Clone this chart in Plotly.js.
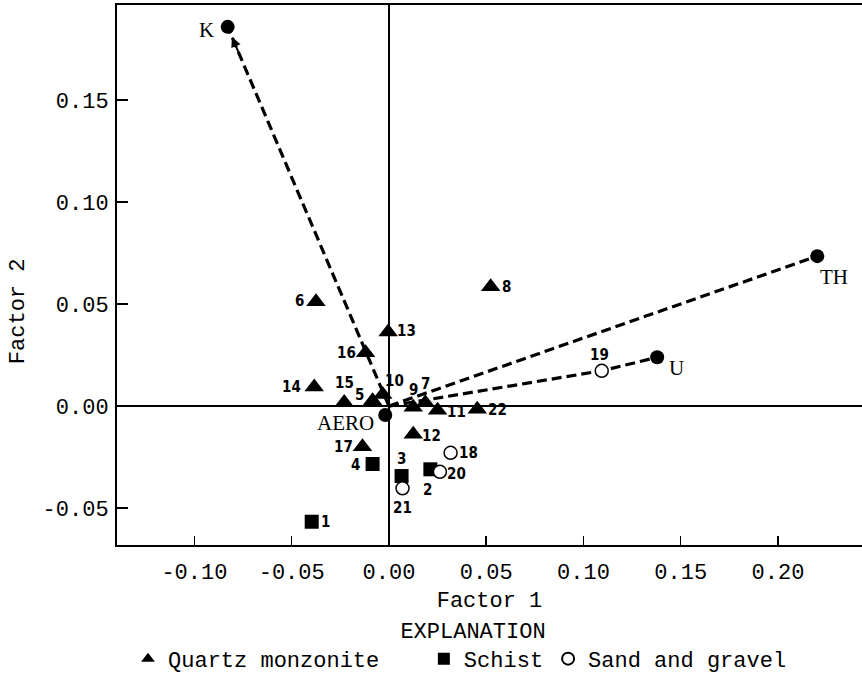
<!DOCTYPE html>
<html>
<head>
<meta charset="utf-8">
<script src="https://cdn.plot.ly/plotly-3.0.1.min.js"></script>
<style>html,body{margin:0;padding:0;background:#fff;}</style>
</head>
<body>
<div id="chart" style="width:862px;height:680px;"></div>
<script>
// ---- data ----
const categories = ['Quartz monzonite', 'Schist', 'Sand and gravel'];

const qmLabels = ['5','6','7','8','9','10','11','12','13','14','15','16','17','22'];
const qmX = [-0.0084,-0.0375, 0.0187, 0.0523, 0.0125,-0.0032, 0.0250, 0.0125,-0.0004,-0.0384,-0.0230,-0.0120,-0.0136, 0.0454];
const qmY = [ 0.0026, 0.0511, 0.0016, 0.0585,-0.0006, 0.0057,-0.0020,-0.0138, 0.0363, 0.0094, 0.0018, 0.0261,-0.0200,-0.0016];

const schLabels = ['1','2','3','4'];
const schX = [-0.0397, 0.0213, 0.0065,-0.0084];
const schY = [-0.0567,-0.0310,-0.0343,-0.0284];

const sgLabels = ['18','19','20','21'];
const sgX = [0.0317, 0.1094, 0.0262, 0.0070];
const sgY = [-0.0229, 0.0173,-0.0322,-0.0403];

const factorNames = ['K','TH','U','AERO'];
const factorX = [-0.0829, 0.2202, 0.1379,-0.0019];
const factorY = [ 0.1859, 0.0735, 0.0239,-0.0044];

const xTickVals = [-0.10,-0.05,0.00,0.05,0.10,0.15,0.20];
const xTickText = ['-0.10','-0.05','0.00','0.05','0.10','0.15','0.20'];
const yTickVals = [-0.05,0.00,0.05,0.10,0.15];
const yTickText = ['-0.05','0.00','0.05','0.10','0.15'];

// ---- styles: label offsets in pixels [right, down] from the mark ----
const labelOffset = {
  '1':[14,0], '2':[-3,21], '3':[0,-17], '4':[-17,1], '5':[-13,-6], '6':[-16,-1],
  '7':[0,-19], '8':[16,0], '9':[0,-17], '10':[12,-13], '11':[19,2], '12':[18,2],
  '13':[18,-1], '14':[-23,0], '15':[0,-19], '16':[-19,0], '17':[-19,0], '18':[18,0],
  '19':[-2,-16], '20':[17,2], '21':[0,20], '22':[20,1]
};
const factorOffset = {'K':[-21,3], 'TH':[17,21], 'U':[19,11], 'AERO':[-40,8]};
const legendPad = ['\u00a0\u00a0\u00a0', '', '\u00a0\u00a0'];

const MONO = 'Liberation Mono, Courier New, monospace';
const NUMF = {family:'Liberation Sans Narrow, DejaVu Sans Condensed, Arial Narrow, sans-serif', size:15, color:'#000', weight:'bold'};
const SERIF = {family:'Liberation Serif, Times New Roman, serif', size:21, color:'#000'};

const iK = factorNames.indexOf('K'), iTH = factorNames.indexOf('TH'), iU = factorNames.indexOf('U');
const i19 = sgLabels.indexOf('19');
const dashLine = {color:'#000', width:3.2, dash:'10px,5px'};

const traces = [];
// vectors from origin
traces.push({x:[0, factorX[iK]], y:[0, factorY[iK]], mode:'lines', line:dashLine, showlegend:false, hoverinfo:'skip'});
traces.push({x:[0, factorX[iTH]], y:[0, factorY[iTH]], mode:'lines', line:dashLine, showlegend:false, hoverinfo:'skip'});
traces.push({x:[0, sgX[i19], factorX[iU]], y:[0, sgY[i19], factorY[iU]], mode:'lines', line:dashLine, showlegend:false, hoverinfo:'skip'});

traces.push({x:qmX, y:qmY, name:categories[0] + legendPad[0], mode:'markers',
  marker:{symbol:'triangle-up', size:17, color:'#000'}});
traces.push({x:schX, y:schY, name:categories[1] + legendPad[1], mode:'markers',
  marker:{symbol:'square', size:14, color:'#000'}});
traces.push({x:sgX, y:sgY, name:categories[2] + legendPad[2], mode:'markers',
  marker:{symbol:'circle', size:13, color:'#fff', line:{color:'#000', width:1.5}}});
traces.push({x:factorX, y:factorY, mode:'markers',
  marker:{symbol:'circle', size:14, color:'#000'}, showlegend:false, hoverinfo:'skip'});

const annotations = [];
function addLabels(xs, ys, labels, offsets, font){
  labels.forEach((l, i) => {
    const o = offsets[l];
    annotations.push({x:xs[i], y:ys[i], xref:'x', yref:'y', text:l, showarrow:false,
      xanchor:'center', yanchor:'middle', xshift:o[0], yshift:-o[1], font:font});
  });
}
addLabels(qmX, qmY, qmLabels, labelOffset, NUMF);
addLabels(schX, schY, schLabels, labelOffset, NUMF);
addLabels(sgX, sgY, sgLabels, labelOffset, NUMF);
addLabels(factorX, factorY, factorNames, factorOffset, SERIF);

annotations.push({text:'Factor 2', textangle:-90, xref:'paper', yref:'paper', x:-0.1329, y:0.433,
  xanchor:'center', yanchor:'middle', showarrow:false, font:{family:MONO, size:22, color:'#000'}});
annotations.push({x:factorX[iK], y:factorY[iK], ax:factorX[iK]*0.93, ay:factorY[iK]*0.93,
  xref:'x', yref:'y', axref:'x', ayref:'y', text:'', showarrow:true,
  arrowhead:2, arrowsize:1, arrowwidth:2, arrowcolor:'#000', standoff:11});

const layout = {
  width:862, height:680,
  margin:{l:117, r:0, t:5, b:135, autoexpand:false},
  paper_bgcolor:'#fff', plot_bgcolor:'#fff',
  font:{family:MONO, size:22, color:'#000'},
  xaxis:{
    range:[-0.1398, 0.2432], tickmode:'array', tickvals:xTickVals, ticktext:xTickText,
    showgrid:false, zeroline:true, zerolinecolor:'#000', zerolinewidth:2,
    showline:true, linecolor:'#000', linewidth:2, mirror:true,
    ticks:'inside', ticklen:9, tickwidth:1.5, tickcolor:'#000', ticklabelstandoff:6,
    tickfont:{family:MONO, size:22, color:'#000'},
    title:{text:'Factor 1', font:{family:MONO, size:22, color:'#000'}, standoff:6}
  },
  yaxis:{
    range:[-0.0681, 0.1966], tickmode:'array', tickvals:yTickVals, ticktext:yTickText,
    showgrid:false, zeroline:true, zerolinecolor:'#000', zerolinewidth:2,
    showline:true, linecolor:'#000', linewidth:2, mirror:false,
    ticks:'inside', ticklen:11, tickwidth:1.5, tickcolor:'#000', ticklabelstandoff:2,
    tickfont:{family:MONO, size:22, color:'#000'}
  },
  showlegend:true,
  legend:{orientation:'h', x:0.0148, xanchor:'left', y:-0.119, yanchor:'top',
    font:{family:MONO, size:22, color:'#000'}, itemsizing:'constant',
    title:{text:'EXPLANATION', side:'top center', font:{family:MONO, size:22, color:'#000'}},
    bgcolor:'rgba(0,0,0,0)'},
  annotations:annotations
};

Plotly.newPlot('chart', traces, layout, {displayModeBar:false, staticPlot:true});
</script>
</body>
</html>
